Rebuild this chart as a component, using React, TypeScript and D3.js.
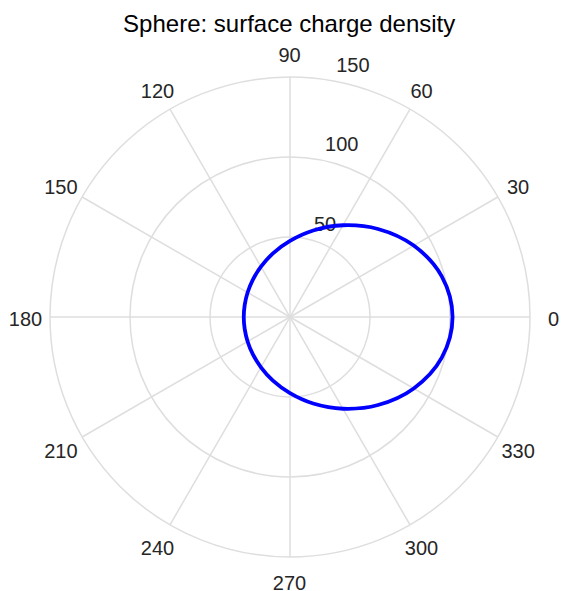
import React from "react";
import * as d3 from "d3";

const thetaDeg = [0, 15, 30, 45, 60, 75, 90, 105, 120, 135, 150, 165, 180, 195, 210, 225, 240, 255, 270, 285, 300, 315, 330, 345];
const sigma = [101.6, 98.2, 89.3, 77.8, 66.2, 56.0, 47.6, 41.2, 36.3, 32.9, 30.6, 29.3, 28.9, 29.3, 30.6, 32.9, 36.3, 41.2, 47.6, 56.0, 66.2, 77.8, 89.3, 98.2];
const rTicks = [50, 100, 150];
const thetaTicks = [0, 30, 60, 90, 120, 150, 180, 210, 240, 270, 300, 330];
const title = "Sphere: surface charge density";

export default function App() {
  const W = 561, H = 591;
  const cx = 290, cy = 317;
  const R = 240;
  const r = d3.scaleLinear().domain([0, 150]).range([0, R]);
  const rad = (d: number) => (d * Math.PI) / 180;
  const px = (deg: number, v: number) => cx + r(v) * Math.cos(rad(deg));
  const py = (deg: number, v: number) => cy - r(v) * Math.sin(rad(deg));
  const pts: [number, number][] = thetaDeg.map((t, i) => [px(t, sigma[i]), py(t, sigma[i])]);
  const line = d3.line().curve(d3.curveCatmullRomClosed.alpha(0.5));
  const grid = "#dedede";
  const font = "'Liberation Sans', Arial, Helvetica, sans-serif";
  const labR = 264;
  const lcx = 289.5, lcy = 319.2;
  const rLabAng = 82;
  return (
    <svg width={W} height={H} style={{ position: "absolute", left: 0, top: 0, background: "#fff" }} fontFamily={font}>
      <rect x={0} y={0} width={W} height={H} fill="#fff" />
      {thetaTicks.map((t) => (
        <line key={"s" + t} x1={cx} y1={cy} x2={px(t, 150)} y2={py(t, 150)} stroke={grid} strokeWidth={1.5} />
      ))}
      {rTicks.map((v) => (
        <circle key={"c" + v} cx={cx} cy={cy} r={r(v)} fill="none" stroke={grid} strokeWidth={1.5} />
      ))}
      {thetaTicks.map((t) => (
        <text key={"t" + t} x={lcx + labR * Math.cos(rad(t))} y={lcy - labR * Math.sin(rad(t))} textAnchor="middle" dominantBaseline="central" fontSize={20} fill="#262626">
          {t}
        </text>
      ))}
      {rTicks.map((v) => (
        <text key={"r" + v} x={px(rLabAng, v) + 12.8} y={py(rLabAng, v) - 7.2} textAnchor="start" fontSize={20} fill="#262626">
          {v}
        </text>
      ))}
      <path d={line(pts) || ""} fill="none" stroke="#0000ff" strokeWidth={3.8} />
      <text x={289.2} y={31.5} textAnchor="middle" fontSize={24} fill="#000">
        {title}
      </text>
    </svg>
  );
}
